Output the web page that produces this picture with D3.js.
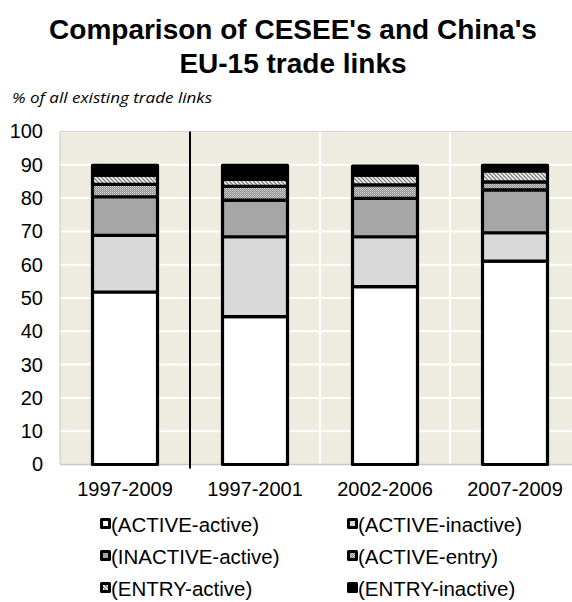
<!DOCTYPE html>
<html>
<head>
<meta charset="utf-8">
<script src="https://cdn.jsdelivr.net/npm/d3@7"></script>
<style>
  html, body { margin: 0; padding: 0; background: #ffffff; }
  svg { display: block; }
</style>
</head>
<body>
<svg id="chart" width="572" height="602"></svg>
<script>
// ---- data ----
const categories = ["1997-2009", "1997-2001", "2002-2006", "2007-2009"];
const seriesNames = ["(ACTIVE-active)", "(ACTIVE-inactive)", "(INACTIVE-active)", "(ACTIVE-entry)", "(ENTRY-active)", "(ENTRY-inactive)"];
const activeActive   = [51.8, 44.4, 53.4, 61.1];
const activeInactive = [17.0, 24.0, 15.0, 8.5];
const inactiveActive = [11.6, 11.0, 11.5, 12.9];
const activeEntry    = [3.7, 4.1, 4.1, 2.4];
const entryActive    = [2.8, 2.1, 2.9, 3.3];
const entryInactive  = [2.9, 4.2, 2.7, 1.6];
const yTicks = [0, 10, 20, 30, 40, 50, 60, 70, 80, 90, 100];
const titleLines = ["Comparison of CESEE's and China's", "EU-15 trade links"];
const subtitle = "% of all existing trade links";

const seriesValues = [activeActive, activeInactive, inactiveActive, activeEntry, entryActive, entryInactive];

// ---- layout ----
const svg = d3.select("#chart");
const plot = { left: 60, right: 572, top: 131.5, bottom: 464.5 };

const defs = svg.append("defs");
// dotted pattern (ACTIVE-entry)
const pDot = defs.append("pattern").attr("id", "pDot").attr("patternUnits", "userSpaceOnUse")
  .attr("width", 2).attr("height", 2);
pDot.append("rect").attr("width", 2).attr("height", 2).attr("fill", "#8c8c8c");
pDot.append("rect").attr("x", 0).attr("y", 0).attr("width", 1).attr("height", 1).attr("fill", "#dcdcdc");
pDot.append("rect").attr("x", 1).attr("y", 1).attr("width", 1).attr("height", 1).attr("fill", "#bdbdbd");
// hatch pattern (ENTRY-active)
const pHatch = defs.append("pattern").attr("id", "pHatch").attr("patternUnits", "userSpaceOnUse")
  .attr("width", 4).attr("height", 4);
pHatch.append("rect").attr("width", 4).attr("height", 4).attr("fill", "#ffffff");
pHatch.append("path").attr("d", "M-1,-1 L5,5 M-1,3 L1,5 M3,-1 L5,1")
  .attr("stroke", "#7a7a7a").attr("stroke-width", 1.3);

const fills = ["#ffffff", "#d9d9d9", "#a6a6a6", "url(#pDot)", "url(#pHatch)", "#000000"];

const x = d3.scaleBand().domain(categories).range([60, 580]).paddingInner(0.477).paddingOuter(0.2385);
const y = d3.scaleLinear().domain([0, 100]).range([plot.bottom, plot.top]);

// title
svg.append("g").selectAll("text").data(titleLines).join("text")
  .attr("x", 293).attr("y", (d, i) => 38.5 + i * 34.5)
  .attr("text-anchor", "middle")
  .attr("font-family", "Liberation Sans, Arial, sans-serif")
  .attr("font-weight", "bold").attr("font-size", 28).attr("fill", "#000")
  .text(d => d);

svg.append("text").attr("x", 12).attr("y", 103)
  .attr("font-family", "'Open Sans', Lato, sans-serif")
  .attr("font-style", "italic").attr("font-size", 15).attr("fill", "#000")
  .attr("textLength", 200).attr("lengthAdjust", "spacingAndGlyphs")
  .text(subtitle);

// plot background
svg.append("rect").attr("x", plot.left).attr("y", plot.top)
  .attr("width", plot.right - plot.left).attr("height", plot.bottom - plot.top)
  .attr("fill", "#eeebe1");

// gridlines
svg.append("g").selectAll("line").data(yTicks.filter(t => t > 0 && t < 100)).join("line")
  .attr("x1", plot.left).attr("x2", plot.right)
  .attr("y1", d => y(d)).attr("y2", d => y(d))
  .attr("stroke", "#ffffff").attr("stroke-width", 2);
const vGrid = categories.slice(1).map(c => x(c) - (x.step() - x.bandwidth()) / 2);
svg.append("g").selectAll("line").data(vGrid.slice(1)).join("line")
  .attr("x1", d => d).attr("x2", d => d)
  .attr("y1", plot.top).attr("y2", plot.bottom)
  .attr("stroke", "#ffffff").attr("stroke-width", 2);

// plot border lines (light grey)
svg.append("line").attr("x1", plot.left).attr("x2", plot.right).attr("y1", plot.top).attr("y2", plot.top)
  .attr("stroke", "#d4d4d4").attr("stroke-width", 1);
svg.append("line").attr("x1", plot.left).attr("x2", plot.left).attr("y1", plot.top).attr("y2", plot.bottom)
  .attr("stroke", "#c8c8c8").attr("stroke-width", 1);
svg.append("line").attr("x1", plot.left).attr("x2", plot.right).attr("y1", plot.bottom).attr("y2", plot.bottom)
  .attr("stroke", "#c8c8c8").attr("stroke-width", 1.5);

// divider between first category and the rest
svg.append("line").attr("x1", vGrid[0]).attr("x2", vGrid[0])
  .attr("y1", plot.top).attr("y2", plot.bottom + 4)
  .attr("stroke", "#000").attr("stroke-width", 2);

// stacked bars
const stackData = categories.map((c, i) => {
  const o = { cat: c };
  seriesNames.forEach((s, k) => o[s] = seriesValues[k][i]);
  return o;
});
const stacked = d3.stack().keys(seriesNames)(stackData);

const barW = x.bandwidth();
svg.append("g").selectAll("g").data(stacked).join("g")
  .attr("fill", (d, k) => fills[k])
  .selectAll("rect").data(d => d).join("rect")
  .attr("x", d => x(d.data.cat) + 1.5)
  .attr("width", barW - 3)
  .attr("y", d => y(d[1]))
  .attr("height", d => y(d[0]) - y(d[1]))
  .attr("stroke", "#000").attr("stroke-width", 3.2).attr("stroke-linejoin", "round");

// y axis labels
const yAxis = d3.axisLeft(y).tickValues(yTicks).tickSize(0).tickPadding(0);
const gy = svg.append("g").attr("transform", "translate(43,0)").call(yAxis);
gy.select(".domain").remove();
gy.selectAll("text").attr("font-family", "Liberation Sans, Arial, sans-serif").attr("font-size", 20).attr("fill", "#000");

// x axis labels
const xAxis = d3.axisBottom(x).tickSize(0).tickPadding(0);
const gx = svg.append("g").attr("transform", `translate(0,${plot.bottom})`).call(xAxis);
gx.select(".domain").remove();
gx.selectAll("text").attr("dy", null).attr("y", 31.5)
  .attr("font-family", "Liberation Sans, Arial, sans-serif").attr("font-size", 20).attr("fill", "#000");

// legend
const legCols = [100, 347];
const legRows = [532, 564, 596];
const leg = svg.append("g").selectAll("g").data(seriesNames).join("g")
  .attr("transform", (d, i) => `translate(${legCols[i % 2]},${legRows[Math.floor(i / 2)]})`);
leg.append("rect").attr("x", 1.5).attr("y", -12.5).attr("width", 8).attr("height", 8)
  .attr("fill", (d, i) => fills[i]).attr("stroke", "#000").attr("stroke-width", 3).attr("stroke-linejoin", "round");
leg.append("text").attr("x", 11).attr("y", 0)
  .attr("font-family", "Liberation Sans, Arial, sans-serif").attr("font-size", 20.5).attr("fill", "#000")
  .text(d => d);
</script>
</body>
</html>
